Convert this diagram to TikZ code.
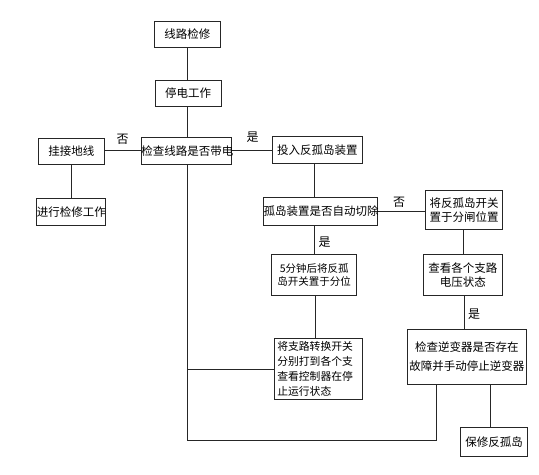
\documentclass[tikz,border=0pt]{standalone}
\usepackage{fontspec}
\newfontfamily\cjk{Noto Sans CJK SC}
\tikzset{
  box/.style={draw=black!85, line width=1bp, inner sep=0pt, font=\cjk\fontsize{11.5bp}{14bp}\selectfont, align=center},
  lbl/.style={inner sep=0pt, font=\cjk\fontsize{12bp}{14bp}\selectfont},
  conn/.style={draw=black!85, line width=1bp}
}
\begin{document}
\begin{tikzpicture}[x=1bp,y=-1bp]
\useasboundingbox (0,0) rectangle (539,475);
% boxes
\node[box, minimum width=66bp, minimum height=26bp] (n1) at (187.3,34.3) {线路检修};
\node[box, minimum width=66bp, minimum height=26bp] (n2) at (188.0,93.3) {停电工作};
\node[box, minimum width=90bp, minimum height=27bp, text width=90bp] (n3) at (186.3,150.8) {检查线路是否带电};
\node[box, minimum width=66bp, minimum height=26bp] (n4) at (71.3,151.3) {挂接地线};
\node[box, minimum width=66bp, minimum height=27bp] (n5) at (71.3,211.8) {进行检修工作};
\node[box, minimum width=90bp, minimum height=27.3bp] (n6) at (317.3,149.7) {投入反孤岛装置};
\node[box, minimum width=114bp, minimum height=28bp, text width=114bp] (n7) at (320.5,211.2) {孤岛装置是否自动切除};
\node[box, minimum width=76.6bp, minimum height=39bp] (n8) at (464,210.5) {将反孤岛开关\\置于分闸位置};
\node[box, minimum width=79bp, minimum height=40bp] (n9) at (462.8,275) {查看各个支路\\电压状态};
\node[box, minimum width=85bp, minimum height=40bp, font=\cjk\fontsize{10.5bp}{13bp}\selectfont] (n10) at (314.2,275) {5分钟后将反孤\\岛开关置于分位};
\node[box, minimum width=88bp, minimum height=61.5bp, align=left, text width=82bp, font=\cjk\fontsize{10.8bp}{15.2bp}\selectfont] (n11) at (318.3,369) {将支路转换开关\\分别打到各个支\\查看控制器在停\\止运行状态};
\node[box, minimum width=119bp, minimum height=54.7bp, font=\cjk\fontsize{11.5bp}{19.5bp}\selectfont] (n12) at (466.8,356.7) {检查逆变器是否存在\\故障并手动停止逆变器};
\node[box, minimum width=67.4bp, minimum height=29.4bp] (n13) at (494,442) {保修反孤岛};
% helper coordinates
\coordinate (c1) at (187.3,440);
\coordinate (c2) at (436.5,440);
\coordinate (c3) at (187.3,369.3);
% connectors
\draw[conn] (n1.south -| c1) -- (n2.north -| c1);
\draw[conn] (n2.south -| c1) -- (n3.north -| c1);
\draw[conn] (n3.west) -- (n3.west -| n4.east);
\draw[conn] (n3.east) -- (n3.east -| n6.west);
\draw[conn] (n4) -- (n5);
\draw[conn] (n6.south -| 314.3,0) -- (n7.north -| 314.3,0);
\draw[conn] (n7.east) -- (n7.east -| n8.west);
\draw[conn] (n7.south -| 314.3,0) -- (n10.north -| 314.3,0);
\draw[conn] (n8.south -| 463.5,0) -- (n9.north -| 463.5,0);
\draw[conn] (n9.south -| 464.3,0) -- (n12.north -| 464.3,0);
\draw[conn] (n10.south -| 315.5,0) -- (n11.north -| 315.5,0);
\draw[conn] (n3.south -| c1) -- (c1) -- (c2) -- (c2 |- n12.south);
\draw[conn] (c3) -- (c3 -| n11.west);
\draw[conn] (n12.south -| 490.5,0) -- (n13.north -| 490.5,0);
% labels
\node[lbl] (l1) at (122.5,139.5) {否};
\node[lbl] (l2) at (252.5,137.5) {是};
\node[lbl] (l3) at (399,202) {否};
\node[lbl] (l4) at (324.5,241.7) {是};
\node[lbl] (l5) at (474,314) {是};
\end{tikzpicture}
\end{document}
